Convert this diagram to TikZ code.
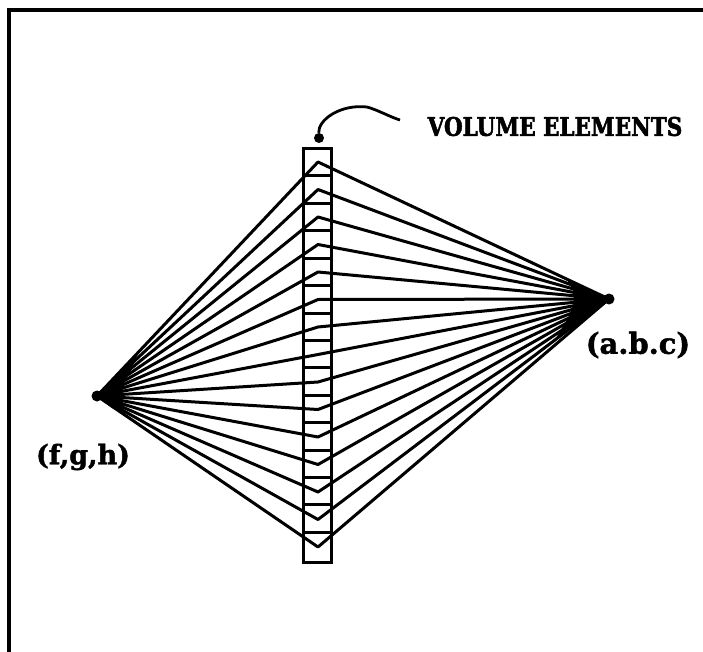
\documentclass[tikz,border=0pt]{standalone}
\usepackage{fontspec}
\setmainfont{DejaVu Serif}
\newfontfamily\heavyfont[FakeBold=1.6]{DejaVu Serif Bold}
\newfontfamily\heavycaps[FakeBold=2,FakeStretch=0.84]{DejaVu Serif Bold}
\tikzset{
  ray/.style={line width=3pt,black,line join=round},
  barline/.style={line width=3pt,black},
  framed/.style={line width=3.8pt,black},
  lbl/.style={inner sep=0pt,anchor=center},
  dot/.style={circle,fill=black,inner sep=0pt,minimum size=11pt}
}
\begin{document}
\begin{tikzpicture}[x=1pt,y=-1pt]
\useasboundingbox (0,0) rectangle (703,652);
\fill[white] (0,0) rectangle (703,652);
\draw[framed] (9,652) -- (9,10) -- (703,10);
\node[dot] (L) at (97,396) {};
\node[dot] (R) at (609,299) {};
\draw[barline] (303,149) rectangle (331,562);
\foreach \k in {0,...,13}{
  \draw[barline] (304,{176+27.4*\k}) -- (330,{176+27.4*\k});
}
\foreach \k in {0,...,14}{
  \coordinate (A\k) at (318,{162+27.5*\k});
  \draw[ray] (L.center) -- (A\k) -- (R.center);
}
\fill (L.center) -- (139,351) -- (132,368) -- (124,382) -- (122,396) -- (124,412) -- (112,408) -- cycle;
\fill (R.center) -- (566,278) -- (573,290) -- (574,303) -- (568,318) -- (553,343) -- cycle;
\node[circle,fill=black,inner sep=0pt,minimum width=8pt,minimum height=10pt] (E) at (319,138) {};
\coordinate (C) at (400,120);
\draw[line width=2.8pt] (E) .. controls (318,120) and (340,104) .. (367,107) .. controls (378,110) and (390,117) .. (C);
\node[lbl,font=\heavycaps\fontsize{25.6}{28}\selectfont] (V) at (555,126.5) {VOLUME ELEMENTS};
\node[lbl,font=\heavyfont\fontsize{29}{32}\selectfont] (T1) at (638,345) {(a.b.c)};
\node[lbl,font=\heavyfont\fontsize{27}{30}\selectfont] (T2) at (83,457) {(f,g,h)};
\end{tikzpicture}
\end{document}
